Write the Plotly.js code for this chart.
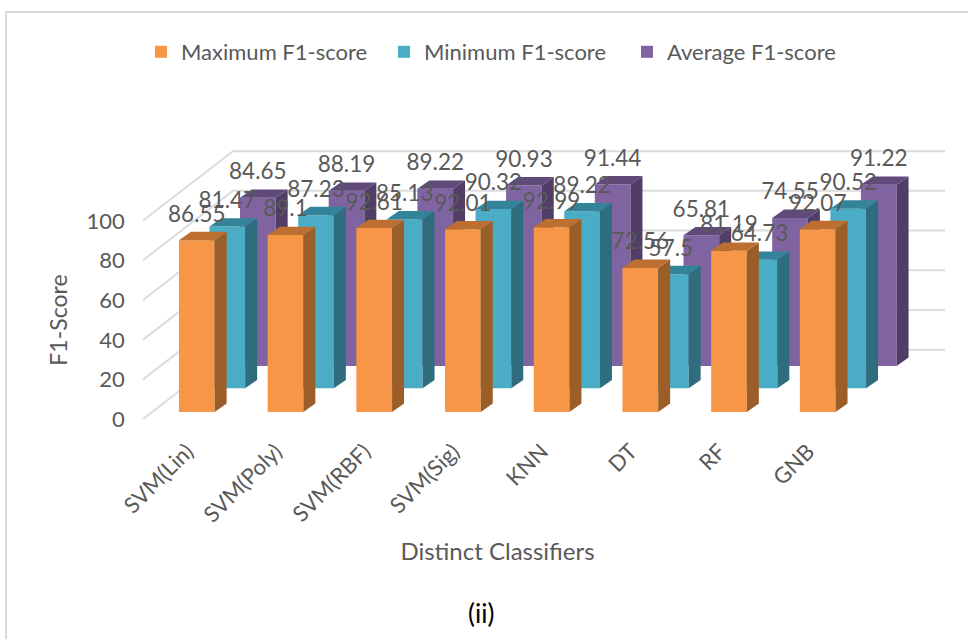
<!DOCTYPE html>
<html>
<head>
<meta charset="utf-8">
<script src="https://cdn.plot.ly/plotly-3.0.1.min.js"></script>
<style>
  html, body { margin: 0; padding: 0; background: #fff; }
  #frame { position: absolute; left: 5px; top: 11px; width: 963px; height: 628px;
           border-left: 2px solid #d9d9d9; border-top: 2px solid #d9d9d9; box-sizing: border-box; }
  #chart { position: absolute; left: 0; top: 0; width: 968px; height: 639px; }
</style>
</head>
<body>
<div id="frame"></div>
<div id="chart"></div>
<script>
// F1-scores per classifier
const classifiers = ['SVM(Lin)', 'SVM(Poly)', 'SVM(RBF)', 'SVM(Sig)', 'KNN', 'DT', 'RF', 'GNB'];
const maximumF1 = [86.55, 89.1, 92.61, 92.01, 92.99, 72.56, 81.19, 92.07];
const minimumF1 = [81.47, 87.23, 85.13, 90.32, 89.22, 57.5, 64.73, 90.52];
const averageF1 = [84.65, 88.19, 89.22, 90.93, 91.44, 65.81, 74.55, 91.22];
const gridValues = [0, 20, 40, 60, 80, 100];

// Canvas size and the pixel box of the chart's front plane and back wall
const W = 968, H = 639;
const LEFT = 142.7, FRONT_RIGHT = 852.3, WALL_RIGHT = 945;
const FLOOR = 419.3, FRONT_TOP = 220.8, WALL_TOP = 141.4;
const fx = p => p / W;
const fy = p => 1 - p / H;

// Oblique projection, expressed in axis units (categories across, score up)
const WALL_DEPTH = { x: 1.018, y: 35.1 };
const BAR_DEPTH = { x: 0.135, y: 4.2 };
const BAR_WIDTH = 0.4025;
const wideRangeX = [-0.5, 8.545];
const wideRangeY = [0, 140];

const indices = classifiers.map((_, i) => i);
const FONT = 'Lato, "Open Sans", sans-serif';
const GREY = '#595959';

// Series from the back row to the front row, each with its own depth offset
const series = [
  { name: 'Average F1-score', values: averageF1, rank: 3, dx: 0.798, base: 26.9,
    front: '#8064a2', side: '#503e66', top: '#5f4a79' },
  { name: 'Minimum F1-score', values: minimumF1, rank: 2, dx: 0.454, base: 15.6,
    front: '#4bacc6', side: '#2f6d7e', top: '#348499' },
  { name: 'Maximum F1-score', values: maximumF1, rank: 1, dx: 0.110, base: 3.7,
    front: '#f79646', side: '#9c5e28', top: '#bc6f30' }
];

const traces = [];

// Front-plane subplot: carries the visible tick labels and axis titles
traces.push({ type: 'scatter', mode: 'none', x: indices, y: maximumF1, xaxis: 'x', yaxis: 'y',
              showlegend: false, hoverinfo: 'skip' });

// Side wall and back wall gridlines
const wallX = [], wallY = [];
gridValues.forEach(v => {
  wallX.push(wideRangeX[0], wideRangeX[0] + WALL_DEPTH.x, wideRangeX[1], null);
  wallY.push(v, v + WALL_DEPTH.y, v + WALL_DEPTH.y, null);
});
traces.push({ type: 'scatter', mode: 'lines', x: wallX, y: wallY, xaxis: 'x2', yaxis: 'y2',
              line: { color: '#dcdcdc', width: 2 }, showlegend: false, hoverinfo: 'skip' });

// One subplot per row, so nearer rows paint over farther ones
series.forEach((s, k) => {
  const n = k + 3;
  const xa = 'x' + n, ya = 'y' + n;
  traces.push({
    type: 'bar', name: s.name, x: indices.map(i => i + s.dx), y: s.values,
    base: s.values.map(() => s.base), width: BAR_WIDTH, xaxis: xa, yaxis: ya,
    marker: { color: s.front, line: { width: 0 } }, legendrank: s.rank
  });
  const sideX = [], sideY = [], topX = [], topY = [];
  s.values.forEach((v, i) => {
    const x0 = i + s.dx - BAR_WIDTH / 2, x1 = i + s.dx + BAR_WIDTH / 2;
    const y0 = s.base, y1 = s.base + v;
    sideX.push(x1, x1 + BAR_DEPTH.x, x1 + BAR_DEPTH.x, x1, null);
    sideY.push(y0, y0 + BAR_DEPTH.y, y1 + BAR_DEPTH.y, y1, null);
    topX.push(x0, x0 + BAR_DEPTH.x, x1 + BAR_DEPTH.x, x1, null);
    topY.push(y1, y1 + BAR_DEPTH.y, y1 + BAR_DEPTH.y, y1, null);
  });
  [[sideX, sideY, s.side], [topX, topY, s.top]].forEach(([fxs, fys, color]) => {
    traces.push({ type: 'scatter', mode: 'lines', x: fxs, y: fys, xaxis: xa, yaxis: ya,
                  fill: 'toself', fillcolor: color, line: { width: 0, color: color },
                  showlegend: false, hoverinfo: 'skip' });
  });
});

// Value labels above every bar, painted over all rows
series.forEach(s => {
  traces.push({
    type: 'scatter', mode: 'text', x: indices.map(i => i + s.dx),
    y: s.values.map(v => v + s.base + 12.2), text: s.values.map(String),
    textposition: 'middle center', textfont: { family: FONT, size: 22.5, color: GREY },
    xaxis: 'x5', yaxis: 'y5', cliponaxis: false, showlegend: false, hoverinfo: 'skip'
  });
});

const layout = {
  width: W, height: H, margin: { l: 0, r: 0, t: 0, b: 0 },
  paper_bgcolor: 'rgba(0,0,0,0)', plot_bgcolor: 'rgba(0,0,0,0)',
  font: { family: FONT, color: GREY },
  barmode: 'overlay', showlegend: true,
  legend: {
    orientation: 'h', x: fx(141), xanchor: 'left', y: fy(52), yanchor: 'middle',
    font: { family: FONT, size: 22, color: GREY }, entrywidth: 198, entrywidthmode: 'pixels',
    bgcolor: 'rgba(0,0,0,0)'
  },
  xaxis: {
    domain: [fx(LEFT), fx(FRONT_RIGHT)], range: [-0.5, 7.5], anchor: 'y', type: 'linear',
    tickmode: 'array', tickvals: indices, ticktext: classifiers, tickangle: -45,
    tickfont: { family: FONT, size: 22, color: GREY }, showgrid: false, zeroline: false,
    showline: false, ticks: '', ticklabelstandoff: 14,
    title: { text: 'Distinct Classifiers', font: { family: FONT, size: 24, color: GREY }, standoff: 16 }
  },
  yaxis: {
    domain: [fy(FLOOR), fy(FRONT_TOP)], range: [0, 100], anchor: 'x',
    tickmode: 'array', tickvals: gridValues, tickfont: { family: FONT, size: 22, color: GREY },
    showgrid: false, zeroline: false, showline: false, ticks: '', ticklabelstandoff: 17,
    title: { text: 'F1-Score', font: { family: FONT, size: 23, color: GREY }, standoff: 12 }
  },
  annotations: [{
    text: '(ii)', xref: 'paper', yref: 'paper', x: fx(481), y: fy(613),
    xanchor: 'center', yanchor: 'middle', showarrow: false,
    font: { family: FONT, size: 26, color: '#000000' }
  }]
};

// Hidden axes shared by the wall and the bar rows, all on one scale
[2, 3, 4, 5].forEach(n => {
  layout['xaxis' + n] = { domain: [fx(LEFT), fx(WALL_RIGHT)], range: wideRangeX, anchor: 'y' + n,
                          visible: false, type: 'linear' };
  layout['yaxis' + n] = { domain: [fy(FLOOR), fy(WALL_TOP)], range: wideRangeY, anchor: 'x' + n,
                          visible: false, type: 'linear' };
});

Plotly.newPlot('chart', traces, layout, { displayModeBar: false, responsive: false });
</script>
</body>
</html>
